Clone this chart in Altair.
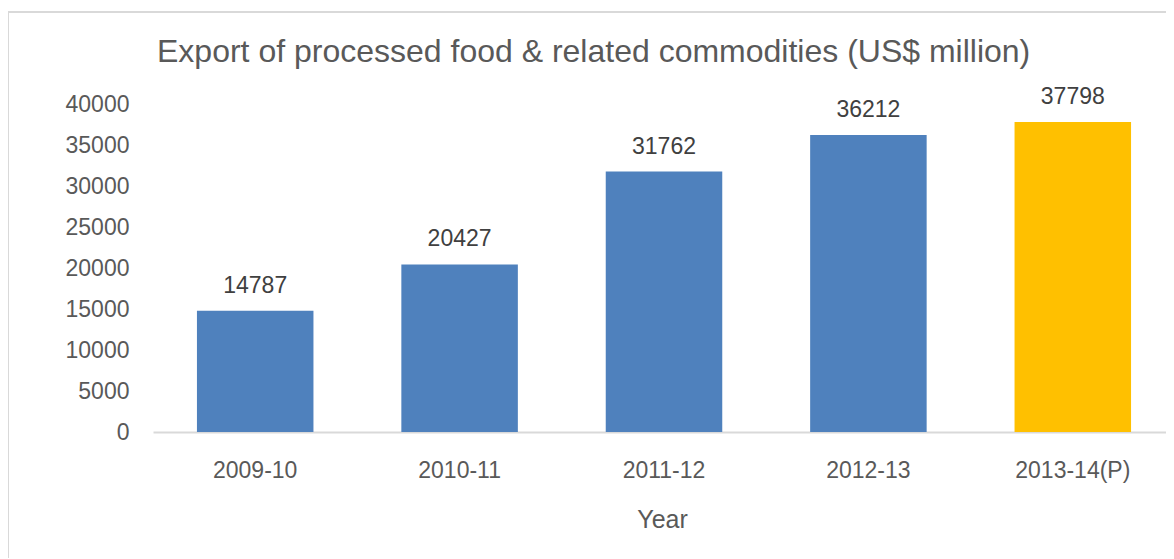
import altair as alt
import pandas as pd

years = ["2009-10", "2010-11", "2011-12", "2012-13", "2013-14(P)"]
values = [14787, 20427, 31762, 36212, 37798]
status = ["Actual", "Actual", "Actual", "Actual", "Provisional"]
y_ticks = [0, 5000, 10000, 15000, 20000, 25000, 30000, 35000, 40000]

FONT = "Liberation Sans"
TXT = "#595959"

df = pd.DataFrame({"Year": years, "Value": values, "Status": status})

base = alt.Chart(df)

x = alt.X("Year:N", sort=years,
          scale=alt.Scale(paddingInner=0.43, paddingOuter=0.215, range=[0, 1022]),
          axis=alt.Axis(title="Year", labelAngle=0, ticks=False, tickSize=0,
                        labelPadding=27, labelFontSize=23, labelFont=FONT, labelColor=TXT,
                        domainColor="#d9d9d9", domainWidth=2,
                        titleFontSize=25, titleFont=FONT, titleColor=TXT, titleFontWeight="normal",
                        titleBaseline="alphabetic", titleY=95, titleX=509))
y = alt.Y("Value:Q", scale=alt.Scale(domain=[0, 40000], nice=False),
          axis=alt.Axis(title=None, values=y_ticks, format="d", ticks=False, tickSize=0,
                        domain=False, grid=False, labelPadding=24, labelFontSize=23,
                        labelFont=FONT, labelColor=TXT))

bars = base.mark_bar().encode(
    x=x, y=y,
    color=alt.Color("Status:N", scale=alt.Scale(domain=["Actual", "Provisional"],
                                                range=["#4f81bd", "#ffc000"]), legend=None),
)

labels = base.mark_text(baseline="alphabetic", dy=-18, fontSize=23, font=FONT, color="#404040").encode(
    x=alt.X("Year:N", sort=years), y="Value:Q", text=alt.Text("Value:Q", format="d")
)

frame = alt.Chart(pd.DataFrame({"f": [0]})).mark_rect(
    fill=None, stroke="#d9d9d9", strokeWidth=2, clip=False
).encode(x=alt.value(-145), x2=alt.value(1200), y=alt.value(-92), y2=alt.value(700))

chart = alt.layer(frame, bars, labels).properties(
    width=1013, height=328,
    title=alt.TitleParams("Export of processed food & related commodities (US$ million)",
                          fontSize=32, font=FONT, color=TXT, fontWeight="normal",
                          anchor="start", frame="group", baseline="alphabetic",
                          dx=4, dy=83, offset=0),
    autosize=alt.AutoSizeParams(type="none"),
    padding={"left": 145, "top": 96, "right": 0, "bottom": 126},
).configure_view(stroke=None)

chart.save("out.html", embed_options={"renderer": "svg", "actions": False})
